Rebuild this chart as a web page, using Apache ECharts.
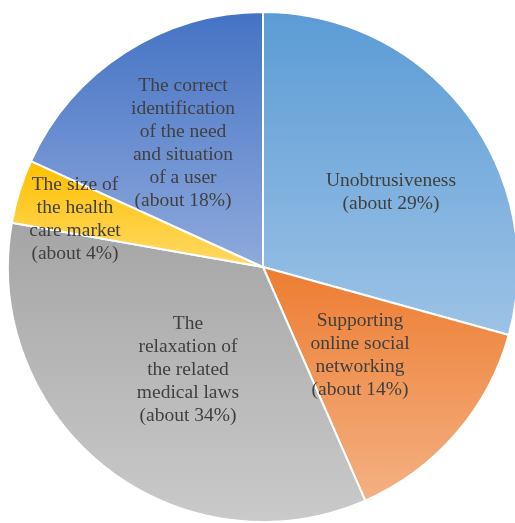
<!DOCTYPE html>
<html>
<head>
<meta charset="utf-8">
<style>
  html, body { margin: 0; padding: 0; background: #ffffff; }
  #chart { width: 515px; height: 523px; }
</style>
<script src="https://cdn.jsdelivr.net/npm/echarts@6/dist/echarts.min.js"></script>
</head>
<body>
<div id="chart"></div>
<script>
// Factors and their approximate shares (%)
const categories = [
  'Unobtrusiveness',
  'Supporting\nonline social\nnetworking',
  'The\nrelaxation of\nthe related\nmedical laws',
  'The size of\nthe health\ncare market',
  'The correct\nidentification\nof the need\nand situation\nof a user'
];
const shares = [29, 14, 34, 4, 18];

// Slice gradients: top colour, bottom colour
const topColors = ['#5B9BD5', '#ED7D31', '#A5A5A5', '#FFC000', '#4472C4'];
const bottomColors = ['#9DC3E6', '#F4B183', '#CACACA', '#FFD966', '#8FAADC'];

// Label centres (px)
const labelCenters = [[391, 192], [360, 355], [188, 370], [75, 219], [183, 143]];

const chart = echarts.init(document.getElementById('chart'), null, { renderer: 'canvas' });

const data = categories.map((name, i) => ({
  name: name,
  value: shares[i],
  itemStyle: {
    color: new echarts.graphic.LinearGradient(0, 0, 0, 1, [
      { offset: 0, color: topColors[i] },
      { offset: 1, color: bottomColors[i] }
    ])
  }
}));

chart.setOption({
  animation: false,
  backgroundColor: '#ffffff',
  series: [{
    type: 'pie',
    center: [263, 267],
    radius: [0, 255],
    startAngle: 90,
    clockwise: true,
    avoidLabelOverlap: false,
    itemStyle: { borderColor: '#ffffff', borderWidth: 2 },
    label: {
      show: true,
      position: 'inside',
      formatter: p => p.name + '\n(about ' + p.value + '%)',
      color: '#404040',
      fontFamily: '"Liberation Serif", "Times New Roman", serif',
      fontSize: 19.5,
      lineHeight: 23,
      align: 'center'
    },
    labelLine: { show: false },
    labelLayout: params => ({
      x: labelCenters[params.dataIndex][0],
      y: labelCenters[params.dataIndex][1],
      align: 'center',
      verticalAlign: 'middle'
    }),
    emphasis: { disabled: true },
    data: data
  }]
});
</script>
</body>
</html>
